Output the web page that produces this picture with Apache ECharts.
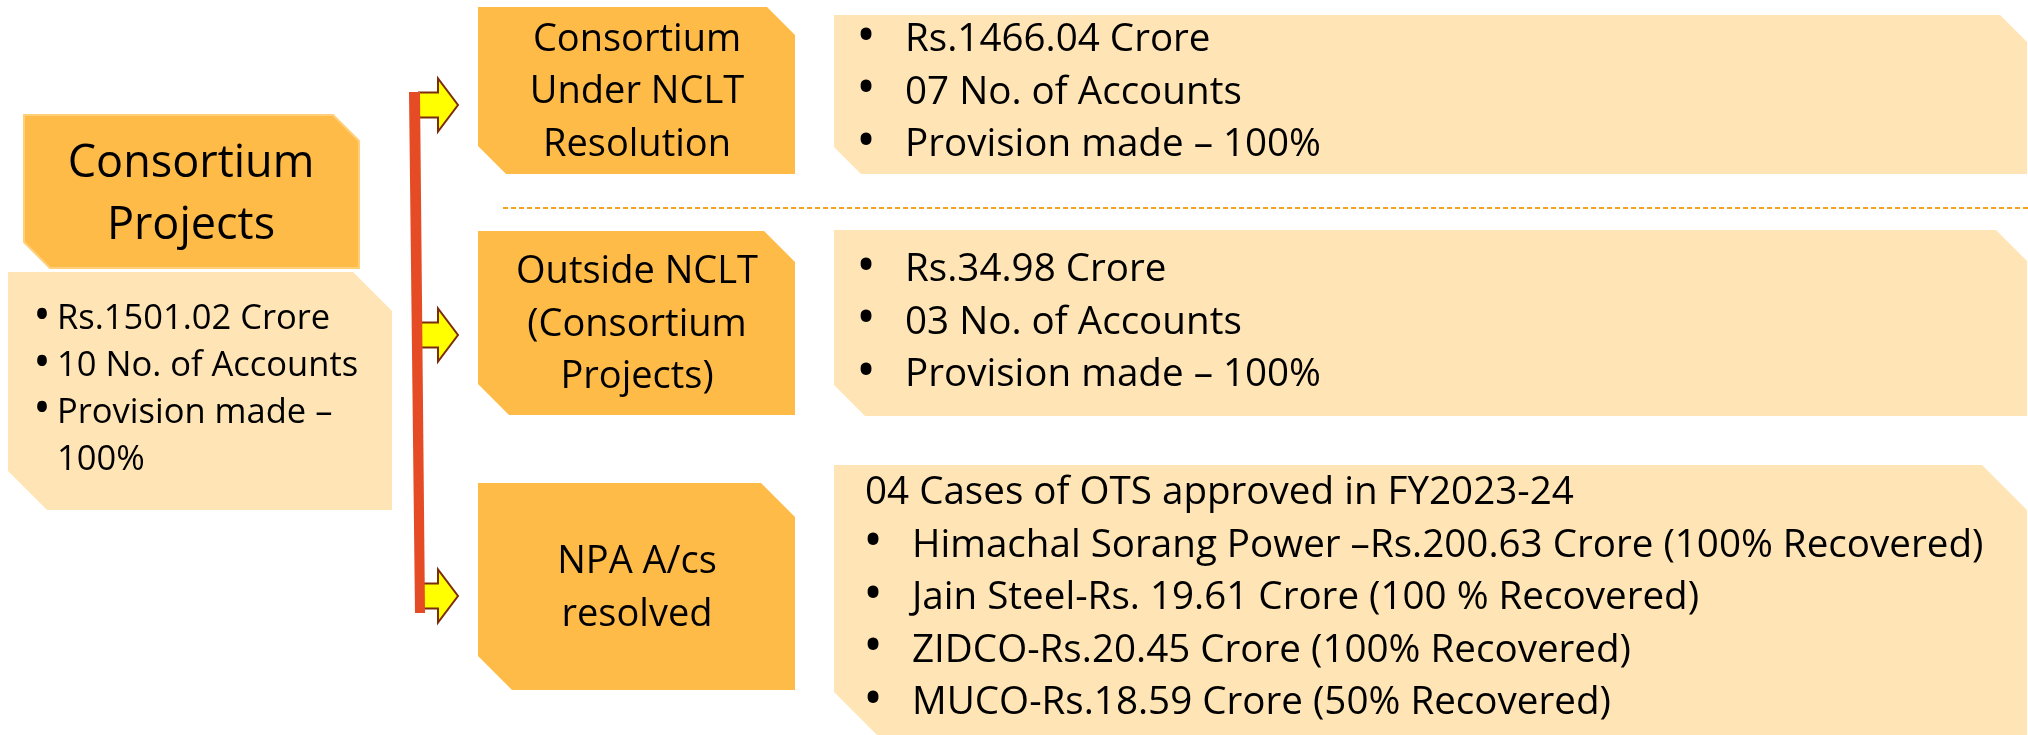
<!DOCTYPE html>
<html>
<head>
<meta charset="utf-8">
<script src="https://cdn.jsdelivr.net/npm/echarts@6/dist/echarts.min.js"></script>
<style>
  html, body { margin: 0; padding: 0; background: #fff; }
  #main { width: 2028px; height: 735px; }
</style>
</head>
<body>
<div id="main"></div>
<script>
// text content of the diagram
const rootTitle = ["Consortium", "Projects"];
const rootFacts = [["Rs.1501.02 Crore"], ["10 No. of Accounts"], ["Provision made \u2013", "100%"]];

const branchTitles = [
  ["Consortium", "Under NCLT", "Resolution"],
  ["Outside NCLT", "(Consortium", "Projects)"],
  ["NPA A/cs", "resolved"]
];
const branchHeadings = ["", "", "04 Cases of OTS approved in FY2023-24"];
const branchFacts = [
  ["Rs.1466.04 Crore", "07 No. of Accounts", "Provision made \u2013 100%"],
  ["Rs.34.98 Crore", "03 No. of Accounts", "Provision made \u2013 100%"],
  [
    "Himachal Sorang Power \u2013Rs.200.63 Crore (100% Recovered)",
    "Jain Steel-Rs. 19.61 Crore (100 % Recovered)",
    "ZIDCO-Rs.20.45 Crore (100% Recovered)",
    "MUCO-Rs.18.59 Crore (50% Recovered)"
  ]
];

const ORANGE = "#FFBB47";
const PALE = "#FFE4B5";
const FONT = '"Open Sans", "Liberation Sans", sans-serif';

// layout (pixels)
const rows = [
  { box: [7, 174], tr: 28, bl: 28, panel: [15, 174], ptr: 27, pbl: 27, arrowY: 105 },
  { box: [231, 415], tr: 31, bl: 31, panel: [230, 416], ptr: 31, pbl: 31, arrowY: 335 },
  { box: [483, 690], tr: 34, bl: 34, panel: [465, 760], ptr: 45, pbl: 68, arrowY: 596 }
];
const panelFirstBase = [52, 282, 505];
const LINE = 52.5;

function bevel(x0, y0, x1, y1, tr, bl) {
  return [[x0, y0], [x1 - tr, y0], [x1, y0 + tr], [x1, y1], [x0 + bl, y1], [x0, y1 - bl]];
}
function text(str, x, baseline, size, align) {
  return {
    type: "text", x: x, y: baseline - 0.3 * size, z: 10,
    style: { text: str, fill: "#000", fontSize: size, fontFamily: FONT, align: align || "left", verticalAlign: "middle" }
  };
}
function bullet(x, baseline, size) {
  return {
    type: "text", x: x, y: baseline - 0.36 * size, z: 10,
    style: { text: "\u2022", fill: "#000", fontSize: size * 1.35, fontFamily: FONT, align: "center", verticalAlign: "middle" }
  };
}

const els = [];

// root node
els.push({ type: "polygon", shape: { points: bevel(24, 115, 359, 268, 26, 26) }, style: { fill: ORANGE, stroke: "#FFCF7A", lineWidth: 2 } });
rootTitle.forEach((t, i) => els.push(text(t, 191, 178 + i * 62, 45, "center")));
els.push({ type: "polygon", shape: { points: bevel(8, 272, 392, 510, 39, 39) }, style: { fill: PALE } });
let ln = 0;
rootFacts.forEach(item => {
  item.forEach((t, j) => {
    const base = 330 + ln * 46.7;
    if (j === 0) els.push(bullet(42, base, 34.5));
    els.push(text(t, 57, base, 34.5));
    ln++;
  });
});

// connectors: arrows under the red bar
rows.forEach(r => {
  const c = r.arrowY;
  els.push({
    type: "polygon",
    shape: { points: [[419, c - 12.5], [438, c - 12.5], [438, c - 26.5], [458, c], [438, c + 26.5], [438, c + 12.5], [419, c + 12.5]] },
    style: { fill: "#FFFF00", stroke: "#7B2C0C", lineWidth: 2 }
  });
});
els.push({ type: "polygon", shape: { points: [[409, 92], [420, 92], [425, 613], [415, 613]] }, style: { fill: "#E54B25" }, z: 5 });

// dashed separator
els.push({ type: "line", shape: { x1: 503, y1: 208, x2: 2028, y2: 208 }, style: { stroke: "#F5A31E", lineWidth: 2, lineDash: [5, 3] } });

// branches
rows.forEach((r, i) => {
  els.push({ type: "polygon", shape: { points: bevel(478, r.box[0], 795, r.box[1], r.tr, r.bl) }, style: { fill: ORANGE } });
  const titles = branchTitles[i];
  const mid = (r.box[0] + r.box[1]) / 2 + 13.5;
  titles.forEach((t, k) => {
    const base = mid + (k - (titles.length - 1) / 2) * LINE;
    els.push(text(t, 637, base, 38, "center"));
  });

  els.push({ type: "polygon", shape: { points: bevel(834, r.panel[0], 2027, r.panel[1], r.ptr, r.pbl) }, style: { fill: PALE } });
  let base = panelFirstBase[i];
  if (branchHeadings[i]) {
    els.push(text(branchHeadings[i], 865, base, 38.6));
    base += LINE;
  }
  const bx = branchHeadings[i] ? 873 : 866;
  const tx = branchHeadings[i] ? 912 : 905;
  branchFacts[i].forEach((t, k) => {
    els.push(bullet(bx, base + k * LINE, 38.6));
    els.push(text(t, tx, base + k * LINE, 38.6));
  });
});

const chart = echarts.init(document.getElementById("main"), null, { renderer: "canvas" });
chart.setOption({
  backgroundColor: "#fff",
  animation: false,
  graphic: { elements: els }
});
</script>
</body>
</html>
